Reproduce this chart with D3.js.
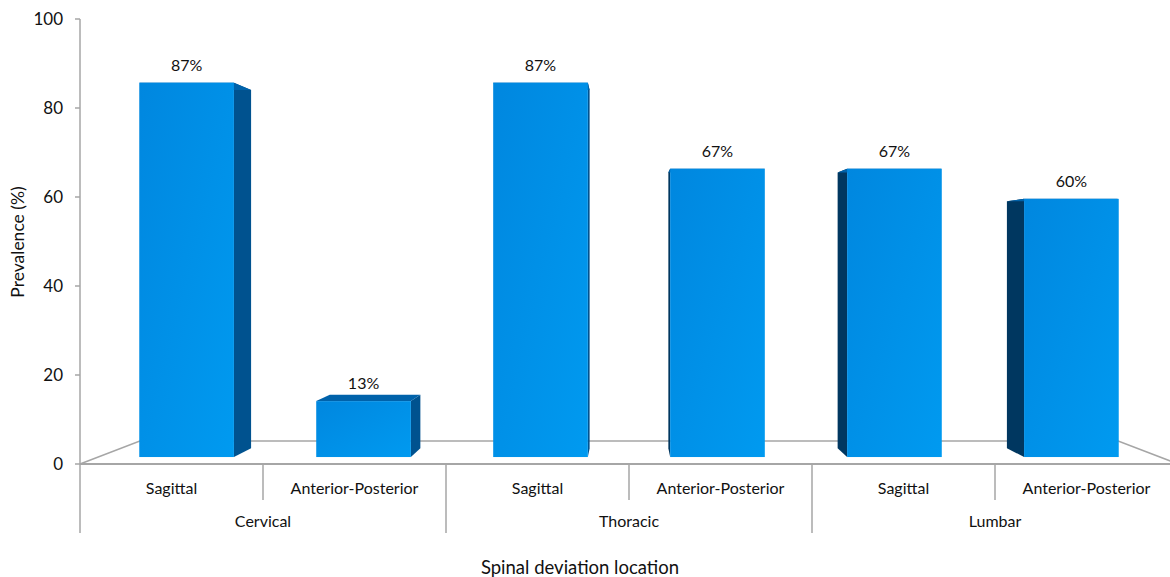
<!DOCTYPE html>
<html><head><meta charset="utf-8">
<script src="https://cdn.jsdelivr.net/npm/d3@7"></script>
<style>body{margin:0;background:#fff}svg{display:block}text{font-family:Lato,"Open Sans",sans-serif;fill:#111}</style>
</head><body><svg id="c" width="1170" height="577"></svg>
<script>
const groups = ["Cervical","Thoracic","Lumbar"];
const subcats = ["Sagittal","Anterior-Posterior"];
const categories = ["Cervical|Sagittal","Cervical|Anterior-Posterior","Thoracic|Sagittal","Thoracic|Anterior-Posterior","Lumbar|Sagittal","Lumbar|Anterior-Posterior"];
const values = [87,13,87,67,67,60];
const valueLabels = ["87%","13%","87%","67%","67%","60%"];
const yTicks = [0,20,40,60,80,100];

const svg = d3.select("#c");
const L = 80, R = 1178, B = 464, T = 19;
const x = d3.scaleBand().domain(categories).range([L,R]).paddingInner(0.465).paddingOuter(0.2325);
const y = d3.scaleLinear().domain([0,100]).range([B,T]);
const vx = (L+R)/2, vy = 253;
const tFront = 0.033, tBack = 0.075, tFloor = 0.109;
const P = (X,Y,t) => [X + (vx-X)*t, Y + (vy-Y)*t];
const line = pts => "M" + pts.map(p=>p.join(",")).join("L") + "Z";
const grey = "#a6a6a6";

const defs = svg.append("defs");
const g = defs.append("linearGradient").attr("id","fg").attr("x1","0").attr("y1","0").attr("x2","1").attr("y2","1");
g.append("stop").attr("offset","0").attr("stop-color","#0087df");
g.append("stop").attr("offset","1").attr("stop-color","#009af0");

// floor
const fl = P(L,B,tFloor), fr = P(R,B,tFloor);
svg.append("path").attr("d", `M${L},${B}L${fl[0]},${fl[1]}L${fr[0]},${fr[1]}L${R},${B}`)
  .attr("fill","none").attr("stroke",grey).attr("stroke-width",1.5);

// y axis
svg.append("line").attr("x1",L).attr("x2",L).attr("y1",T).attr("y2",533).attr("stroke",grey).attr("stroke-width",1.5);
svg.selectAll(".yt").data(yTicks).join("line").attr("x1",L-5).attr("x2",L).attr("y1",d=>y(d)).attr("y2",d=>y(d)).attr("stroke",grey).attr("stroke-width",1.5);
svg.selectAll(".yl").data(yTicks).join("text").attr("x",63).attr("y",d=>y(d)+6).attr("text-anchor","end").style("font-size","17px").text(d=>d);

// bars
const order = d3.range(values.length).sort((a,b)=>Math.abs(x(categories[b])+x.bandwidth()/2-vx)-Math.abs(x(categories[a])+x.bandwidth()/2-vx));
order.forEach(i=>{
  const x0 = x(categories[i]), x1 = x0 + x.bandwidth();
  const yt = y(values[i]);
  const center = (x0+x1)/2;
  const gg = svg.append("g");
  const sx = center < vx ? x1 : x0;
  const sideCol = center < vx ? "#00528f" : "#003760";
  gg.append("path").attr("d", line([P(sx,B,tFront),P(sx,yt,tFront),P(sx,yt,tBack),P(sx,B,tBack)])).attr("fill",sideCol);
  gg.append("path").attr("d", line([P(x0,yt,tFront),P(x1,yt,tFront),P(x1,yt,tBack),P(x0,yt,tBack)])).attr("fill","#0062aa");
  const a = P(x0,yt,tFront), b = P(x1,B,tFront);
  gg.append("rect").attr("x",a[0]).attr("y",a[1]).attr("width",b[0]-a[0]).attr("height",b[1]-a[1]).attr("fill","url(#fg)");
  svg.append("text").attr("x",(a[0]+b[0])/2).attr("y",a[1]-12).attr("text-anchor","middle").style("font-size","16px").text(valueLabels[i]);
});

// category axis
svg.append("line").attr("x1",L).attr("x2",R).attr("y1",B).attr("y2",B).attr("stroke",grey).attr("stroke-width",2);
const step = x.step();
categories.forEach((c,i)=>{
  const xl = L + step*i;
  const isGroup = i % 2 === 0;
  if (i>0) svg.append("line").attr("x1",xl).attr("x2",xl).attr("y1",B).attr("y2",isGroup?533:500).attr("stroke",grey).attr("stroke-width",1.5);
  svg.append("text").attr("x",xl+step/2).attr("y",494).attr("text-anchor","middle").style("font-size","16px").text(c.split("|")[1]);
});
svg.append("line").attr("x1",R).attr("x2",R).attr("y1",B).attr("y2",533).attr("stroke",grey).attr("stroke-width",1.5);
groups.forEach((gname,j)=>{
  svg.append("text").attr("x",L+step*(2*j+1)).attr("y",527).attr("text-anchor","middle").style("font-size","16px").text(gname);
});

svg.append("text").attr("x",580).attr("y",574).attr("text-anchor","middle").style("font-size","18.5px").text("Spinal deviation location");
svg.append("text").attr("transform","translate(24,242) rotate(-90)").attr("text-anchor","middle").style("font-size","17.5px").text("Prevalence (%)");
</script></body></html>
